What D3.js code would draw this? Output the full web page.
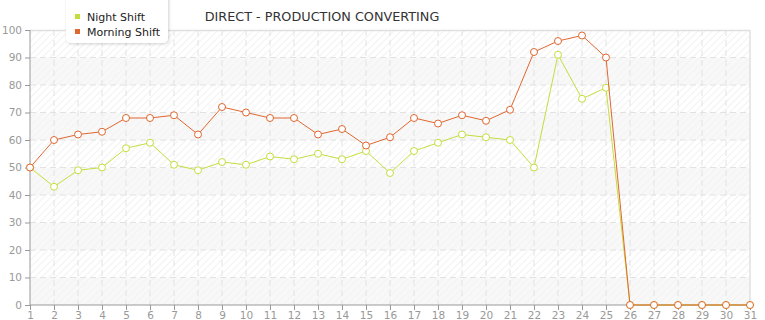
<!DOCTYPE html>
<html><head><meta charset="utf-8">
<script src="https://cdn.jsdelivr.net/npm/d3@7"></script>
<style>body{margin:0;background:#fff;}svg{display:block;font-family:"DejaVu Sans",Verdana,sans-serif;}</style>
</head><body>
<svg id="c" width="765" height="320"></svg>
<script>
const days = d3.range(1, 32);
const nightShift = [50,43,49,50,57,59,51,49,52,51,54,53,55,53,56,48,56,59,62,61,60,50,91,75,79,0,0,0,0,0,0];
const morningShift = [50,60,62,63,68,68,69,62,72,70,68,68,62,64,58,61,68,66,69,67,71,92,96,98,90,0,0,0,0,0,0];
const yTicks = [0,10,20,30,40,50,60,70,80,90,100];
const seriesNames = ["Night Shift","Morning Shift"];
const colors = ["#c5dd3c","#e0672f"];
const title = "DIRECT - PRODUCTION CONVERTING";

const svg = d3.select("#c");
const L=30,R=750,T=30,B=305;
const x = d3.scaleLinear().domain([1,31]).range([L,R]);
const y = d3.scaleLinear().domain([0,100]).range([B,T]);

const defs = svg.append("defs");
const pat = defs.append("pattern").attr("id","hatch").attr("patternUnits","userSpaceOnUse")
  .attr("width",5).attr("height",5).attr("patternTransform","rotate(45)");
pat.append("rect").attr("width",5).attr("height",5).attr("fill","#fff");
pat.append("line").attr("x1",0).attr("y1",0).attr("x2",0).attr("y2",5).attr("stroke","#eeeeee").attr("stroke-width",1.5);
const pat2 = defs.append("pattern").attr("id","hatch2").attr("patternUnits","userSpaceOnUse")
  .attr("width",5).attr("height",5).attr("patternTransform","rotate(45)");
pat2.append("rect").attr("width",5).attr("height",5).attr("fill","#f8f8f8");
pat2.append("line").attr("x1",0).attr("y1",0).attr("x2",0).attr("y2",5).attr("stroke","#f2f2f2").attr("stroke-width",1.5);

// bands
const bands = d3.range(0,100,10);
svg.append("g").selectAll("rect").data(bands).join("rect")
  .attr("x",L).attr("width",R-L)
  .attr("y",d=>y(d+10)).attr("height",d=>y(d)-y(d+10))
  .attr("fill",d=>(d/10)%2===0?"url(#hatch2)":"url(#hatch)");

// grid
svg.append("g").selectAll("line").data(yTicks.filter(d=>d>0&&d<100)).join("line")
  .attr("x1",L).attr("x2",R).attr("y1",d=>y(d)).attr("y2",d=>y(d))
  .attr("stroke","#e2e2e2").attr("stroke-dasharray","6,4");
svg.append("g").selectAll("line").data(days.slice(1,-1)).join("line")
  .attr("y1",T).attr("y2",B).attr("x1",d=>x(d)).attr("x2",d=>x(d))
  .attr("stroke","#e2e2e2").attr("stroke-dasharray","6,4");
// top and right borders
svg.append("line").attr("x1",L).attr("x2",R).attr("y1",T+0.5).attr("y2",T+0.5).attr("stroke","#e0e0e0").attr("stroke-width",1.5);
svg.append("line").attr("x1",R).attr("x2",R).attr("y1",T).attr("y2",B).attr("stroke","#e0e0e0").attr("stroke-width",1.5);

// axes
const ya = svg.append("g").attr("transform",`translate(${L},0)`)
  .call(d3.axisLeft(y).tickValues(yTicks).tickSize(5).tickPadding(3));
const xa = svg.append("g").attr("transform",`translate(0,${B})`)
  .call(d3.axisBottom(x).tickValues(days).tickSize(5).tickPadding(2).tickFormat(d3.format("d")));
[ya,xa].forEach(a=>{
  a.select(".domain").attr("stroke","#999");
  a.selectAll(".tick line").attr("stroke","#999");
  a.selectAll("text").attr("fill","#999").attr("font-size","10.5px").attr("font-family","'DejaVu Sans',Verdana,sans-serif");
});
ya.select(".domain").attr("d",`M0,${T}V${B}`);
xa.select(".domain").attr("d",`M${L},0H${R}`);

// lines
const allSeries = [nightShift, morningShift];
allSeries.forEach((vals,i)=>{
  const g = svg.append("g");
  g.append("path").datum(vals).attr("fill","none").attr("stroke",colors[i]).attr("stroke-width",1)
    .attr("d",d3.line().x((d,j)=>x(days[j])).y(d=>y(d)));
  g.selectAll("circle").data(vals).join("circle")
    .attr("cx",(d,j)=>x(days[j])).attr("cy",d=>y(d)).attr("r",3.5)
    .attr("fill","#fff").attr("stroke",colors[i]).attr("stroke-width",1);
});

// title
svg.append("text").attr("x",322).attr("y",21).attr("text-anchor","middle")
  .attr("font-size","12.8px").attr("fill","#333").text(title);

// legend
const filt = defs.append("filter").attr("id","sh").attr("x","-20%").attr("y","-20%").attr("width","140%").attr("height","150%");
filt.append("feDropShadow").attr("dx",1).attr("dy",1).attr("stdDeviation",1.5).attr("flood-color","#000").attr("flood-opacity",0.18);
const lg = svg.append("g");
lg.append("rect").attr("x",66).attr("y",-6).attr("width",102).attr("height",49).attr("rx",5)
  .attr("fill","#fff").attr("filter","url(#sh)");
seriesNames.forEach((n,i)=>{
  lg.append("rect").attr("x",75).attr("y",14+i*15).attr("width",5).attr("height",5).attr("fill",colors[i]);
  lg.append("text").attr("x",87).attr("y",21+i*15).attr("font-size","11px").attr("fill","#222").text(n);
});
</script>
</body></html>
